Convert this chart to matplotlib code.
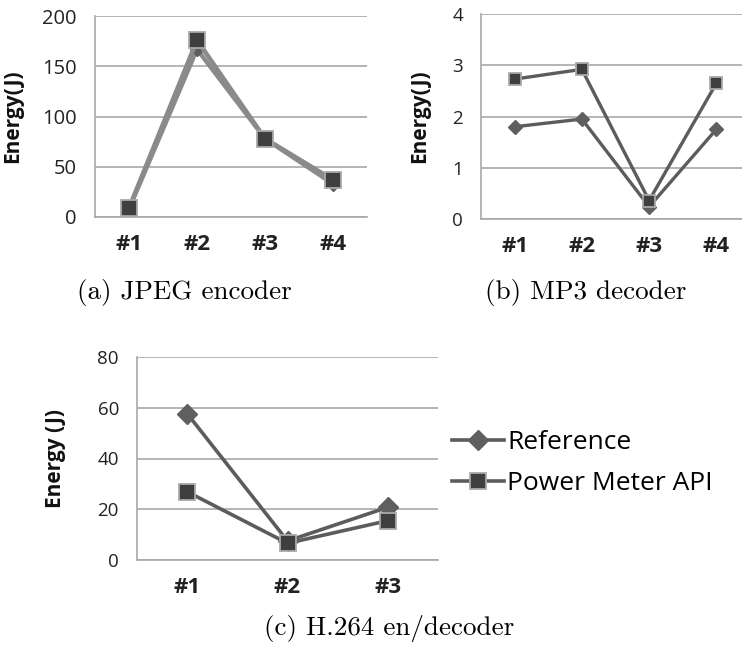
import matplotlib
matplotlib.use("Agg")
import matplotlib.pyplot as plt
from matplotlib.lines import Line2D

# ---------------- data ----------------
jpeg_cats = ["#1", "#2", "#3", "#4"]
jpeg_reference = [8, 167, 78, 33]
jpeg_power_api = [9, 176, 78, 37]
jpeg_yticks = [0, 50, 100, 150, 200]

mp3_cats = ["#1", "#2", "#3", "#4"]
mp3_reference = [1.80, 1.95, 0.24, 1.75]
mp3_power_api = [2.73, 2.92, 0.36, 2.65]
mp3_yticks = [0, 1, 2, 3, 4]

h264_cats = ["#1", "#2", "#3"]
h264_reference = [57.7, 7.5, 20.8]
h264_power_api = [26.9, 6.6, 15.5]
h264_yticks = [0, 20, 40, 60, 80]

series_names = ["Reference", "Power Meter API"]
captions = ["(a) JPEG encoder", "(b) MP3 decoder", "(c) H.264 en/decoder"]
ylabels = ["Energy(J)", "Energy(J)", "Energy (J)"]

# ---------------- style ----------------
W, H = 742, 648
fig = plt.figure(figsize=(W / 100, H / 100), dpi=100)
SANS = ["Open Sans", "DejaVu Sans"]
SERIF = ["cmr10", "DejaVu Serif"]
GRID = "#a8a8a8"
LINE_DARK = "#5c5c5c"
LINE_LIGHT = "#8a8a8a"
SQ_FACE = "#3f3f3f"
SQ_EDGE = "#a9a9a9"
DIA_FACE = "#5f5f5f"


def px_axes(left, top, right, bottom):
    return fig.add_axes([left / W, 1 - bottom / H, (right - left) / W, (bottom - top) / H])


def style(ax, cats, yticks, ylabel, ytick_size=13.5):
    ax.set_xlim(-0.5, len(cats) - 0.5)
    ax.set_ylim(yticks[0], yticks[-1])
    ax.set_yticks(yticks)
    ax.set_yticklabels([str(t) for t in yticks], fontsize=ytick_size, family=SANS, color="#222222")
    ax.set_xticks(range(len(cats)))
    ax.set_xticklabels(cats, fontsize=16, fontweight="bold", family=SANS, color="#222222")
    ax.tick_params(axis="both", length=0)
    ax.tick_params(axis="x", pad=12)
    ax.tick_params(axis="y", pad=13)
    for s in ["top", "right"]:
        ax.spines[s].set_visible(False)
    for s in ["left", "bottom"]:
        ax.spines[s].set_color(GRID)
        ax.spines[s].set_linewidth(1.2)
    ax.grid(axis="y", color=GRID, linewidth=1.2)
    ax.set_axisbelow(True)
    ax.set_ylabel(ylabel, fontsize=15, fontweight="bold", family=SANS, color="#111111")


def draw(ax, ref, api, line_color, lw, sq_ms, dia_ms):
    x = list(range(len(ref)))
    ax.plot(x, ref, color=line_color, lw=lw, marker="D", ms=dia_ms,
            mfc=DIA_FACE, mec=DIA_FACE, zorder=3)
    ax.plot(x, api, color=line_color, lw=lw, marker="s", ms=sq_ms,
            mfc=SQ_FACE, mec=SQ_EDGE, mew=1.3, zorder=4)


# (a) JPEG encoder
axa = px_axes(95, 16, 367, 217)
style(axa, jpeg_cats, jpeg_yticks, ylabels[0], ytick_size=14.5)
draw(axa, jpeg_reference, jpeg_power_api, LINE_LIGHT, 3.2, 11, 7)
axa.yaxis.set_label_coords(-0.265, 0.5)

# (b) MP3 decoder
axb = px_axes(481, 14, 750, 219)
style(axb, mp3_cats, mp3_yticks, ylabels[1])
draw(axb, mp3_reference, mp3_power_api, LINE_DARK, 2.4, 9, 7)
axb.yaxis.set_label_coords(-0.19, 0.5)

# (c) H.264 en/decoder
axc = px_axes(137, 357, 438, 560)
style(axc, h264_cats, h264_yticks, ylabels[2])
draw(axc, h264_reference, h264_power_api, LINE_DARK, 2.6, 12, 10)
axc.yaxis.set_label_coords(-0.235, 0.5)

handles = [
    Line2D([], [], color=LINE_DARK, lw=2.6, marker="D", ms=10, mfc=DIA_FACE, mec=DIA_FACE),
    Line2D([], [], color=LINE_DARK, lw=2.6, marker="s", ms=12, mfc=SQ_FACE, mec=SQ_EDGE, mew=1.3),
]
fig.legend(handles, series_names, loc="center left",
           bbox_to_anchor=(441 / W, 1 - 463 / H), frameon=False,
           prop={"family": SANS, "size": 19}, handlelength=2.0, handletextpad=0.1,
           labelspacing=0.62, borderaxespad=0)

# captions
fig.text(184 / W, 1 - 293 / H, captions[0], ha="center", va="center", fontsize=19.5, family=SERIF)
fig.text(586 / W, 1 - 293 / H, captions[1], ha="center", va="center", fontsize=19.5, family=SERIF)
fig.text(389 / W, 1 - 628 / H, captions[2], ha="center", va="center", fontsize=19.5, family=SERIF)

fig.savefig("out.png", dpi=100)
